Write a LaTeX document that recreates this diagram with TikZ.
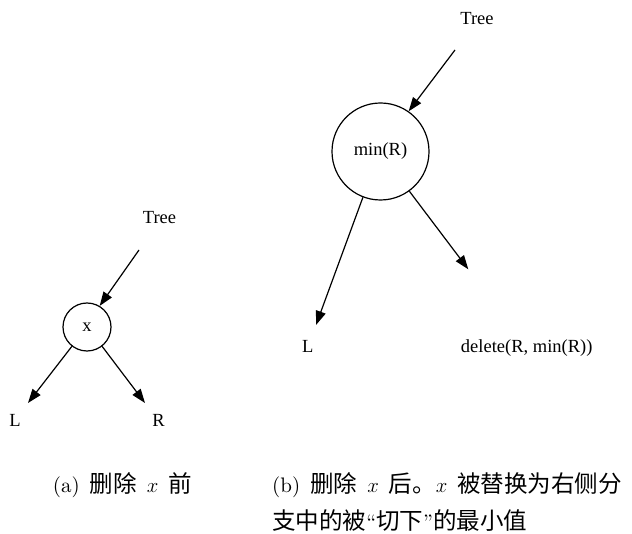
\documentclass[tikz,border=0pt]{standalone}
\usepackage{fontspec}
\usepackage{amsmath}
\usepackage{tikz}
\usetikzlibrary{arrows.meta}
\newfontfamily\gvfont{Liberation Serif}
\newfontfamily\lmten{lmroman10-regular}[Extension=.otf,Ligatures=TeX]
\newfontfamily\cjk{Noto Sans CJK SC}[Scale=1.12]
\newcommand\capfont{\lmten\fontsize{21}{34}\selectfont\spaceskip=10pt\relax}
\tikzset{
  lbl/.style={inner sep=0pt,font=\gvfont\fontsize{18.5}{22}\selectfont},
  vertex/.style={circle,draw,line width=1.2pt,inner sep=0pt,font=\gvfont\fontsize{18.5}{22}\selectfont},
  edge/.style={line width=1.2pt,-{Triangle[length=14pt,width=10pt]}},
  captext/.style={inner sep=0pt,font=\capfont}
}

\begin{document}
\begin{tikzpicture}[x=1pt,y=-1pt]
\useasboundingbox (0,0) rectangle (632,534);

% (a) before deleting x
\node[lbl,anchor=base] (treeA) at (159.5,223.3) {Tree};
\node[vertex,minimum size=48pt] (xA) at (87,327) {x};
\node[lbl,anchor=base] (LA) at (15,427) {L};
\node[lbl,anchor=base] (RA) at (158.5,427) {R};

\draw[edge] ([xshift=-20.5pt,yshift=-26.7pt]treeA.base) -- (xA.59);
\draw[edge] (xA.232) -- ([xshift=13pt,yshift=24pt]LA.base);
\draw[edge] (xA.308) -- ([xshift=-13.5pt,yshift=24pt]RA.base);

% (b) after deleting x
\node[lbl,anchor=base] (treeB) at (477,25) {Tree};
\node[vertex,minimum size=97pt] (minB) at (380.5,151.5) {min(R)};
\node[lbl,anchor=base] (LB) at (307.7,353) {L};
\node[lbl,anchor=base] (delB) at (526.7,353) {delete(R, min(R))};

\draw[edge] ([xshift=-22pt,yshift=-25pt]treeB.base) -- (minB.55);
\draw[edge] (minB.249) -- ([xshift=8.3pt,yshift=28pt]LB.base);
\draw[edge] (minB.306) -- ([xshift=-58.4pt,yshift=83.7pt]delB.base);

% captions
\node[captext,anchor=base west] (capA) at (52.7,492) {(a) {\cjk 删除} $x$ {\cjk 前}};
\node[captext,anchor=base west] (capB) at (272,492) {(b) {\cjk 删除} $x$ {\cjk 后。}$x$ {\cjk 被替换为右侧分}};
\node[captext,anchor=base west] (capC) at (272,529.5) {{\cjk 支中的被}“{\cjk 切下}”{\cjk 的最小值}};
\end{tikzpicture}
\end{document}
